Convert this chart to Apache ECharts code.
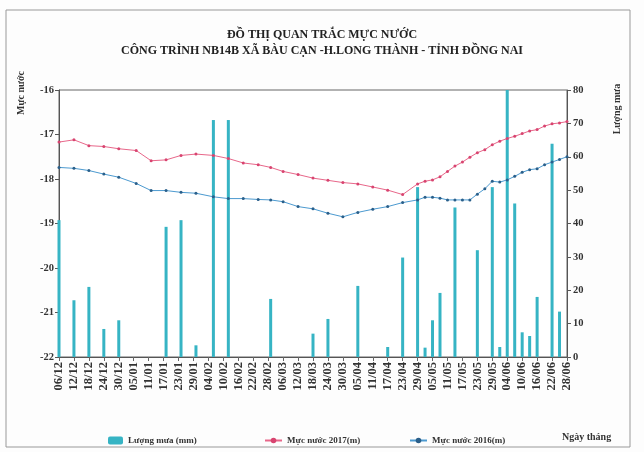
<!DOCTYPE html>
<html><head><meta charset="utf-8">
<script src="https://cdn.jsdelivr.net/npm/echarts@6/dist/echarts.min.js"></script>
<style>html,body{margin:0;padding:0;background:#fdfdfd}#c{width:644px;height:452px}</style>
</head><body><div id="c"></div>
<script>
const titleLines = ['ĐỒ THỊ QUAN TRẮC MỰC NƯỚC', 'CÔNG TRÌNH NB14B XÃ BÀU CẠN -H.LONG THÀNH - TỈNH ĐỒNG NAI'];
const tickLabels = ['06/12','12/12','18/12','24/12','30/12','05/01','11/01','17/01','23/01','29/01','04/02','10/02','16/02','22/02','28/02','06/03','12/03','18/03','24/03','30/03','05/04','11/04','17/04','23/04','29/04','05/05','11/05','17/05','23/05','29/05','04/06','10/06','16/06','22/06','28/06'];
const lineDates = ['06/12','12/12','18/12','24/12','30/12','06/01','12/01','18/01','24/01','30/01','06/02','12/02','18/02','24/02','01/03','06/03','12/03','18/03','24/03','30/03','05/04','11/04','17/04','23/04','29/04','02/05','05/05','08/05','11/05','14/05','17/05','20/05','23/05','26/05','29/05','01/06','04/06','07/06','10/06','13/06','16/06','19/06','22/06','25/06','28/06'];
const level2017 = [-17.17,-17.12,-17.25,-17.27,-17.32,-17.36,-17.59,-17.57,-17.47,-17.44,-17.47,-17.54,-17.64,-17.68,-17.74,-17.83,-17.90,-17.98,-18.03,-18.08,-18.11,-18.18,-18.25,-18.35,-18.11,-18.05,-18.02,-17.95,-17.83,-17.71,-17.62,-17.51,-17.41,-17.34,-17.23,-17.15,-17.09,-17.04,-16.98,-16.92,-16.89,-16.81,-16.76,-16.74,-16.71];
const level2016 = [-17.74,-17.76,-17.81,-17.89,-17.96,-18.10,-18.26,-18.26,-18.30,-18.32,-18.40,-18.44,-18.44,-18.46,-18.47,-18.51,-18.62,-18.67,-18.77,-18.85,-18.75,-18.68,-18.62,-18.53,-18.47,-18.41,-18.41,-18.43,-18.47,-18.47,-18.47,-18.47,-18.34,-18.22,-18.05,-18.07,-18.02,-17.94,-17.85,-17.79,-17.77,-17.68,-17.62,-17.56,-17.50];
const rainDates = ['06/12','12/12','18/12','24/12','30/12','18/01','24/01','30/01','06/02','12/02','01/03','18/03','24/03','05/04','17/04','23/04','29/04','02/05','05/05','08/05','14/05','23/05','29/05','01/06','04/06','07/06','10/06','13/06','16/06','22/06','25/06'];
const rainValues = [41,17,21,8.4,11,39,41,3.5,71,71,17.4,7,11.4,21.3,3,29.8,50.9,2.8,11,19.2,44.8,32,50.9,3,80,46,7.4,6.3,18,63.9,13.6];

function dayOf(s){const p=s.split('/').map(Number);const y=p[1]===12?2016:2017;return Math.round((Date.UTC(y,p[1]-1,p[0])-Date.UTC(2016,11,6))/86400000);}
const FONT='Liberation Serif';
const legendText={fontFamily:FONT,fontWeight:'bold',fontSize:9,color:'#333'};
const chart=echarts.init(document.getElementById('c'));
chart.setOption({
  backgroundColor:'#fdfdfd',
  animation:false,
  title:{text:titleLines.join('\n'),left:'center',top:22,textStyle:{fontFamily:FONT,fontWeight:'bold',fontSize:12,lineHeight:16,color:'#222'}},
  grid:{left:59,right:77,top:90,bottom:95,show:true,borderColor:'#666',borderWidth:1,backgroundColor:'#fff'},
  legend:[
    {data:['Lượng mưa (mm)'],left:103,top:431,itemWidth:15,itemHeight:8,textStyle:legendText},
    {data:['Mực nước 2017(m)'],left:259,top:431,itemWidth:17,itemHeight:7,textStyle:legendText},
    {data:['Mực nước 2016(m)'],left:404,top:431,itemWidth:17,itemHeight:7,textStyle:legendText}
  ],
  xAxis:{type:'value',min:0,max:204,interval:6,
    axisLine:{lineStyle:{color:'#555'}},axisTick:{length:4,lineStyle:{color:'#666'}},splitLine:{show:false},
    axisLabel:{rotate:90,margin:5,fontFamily:FONT,fontWeight:'bold',fontSize:12.5,color:'#333',formatter:v=>tickLabels[Math.round(v/6)]||''}},
  yAxis:[
    {type:'value',min:-22,max:-16,interval:1,position:'left',splitLine:{show:false},
     axisLine:{show:true,lineStyle:{color:'#555'}},axisTick:{show:true,length:4,lineStyle:{color:'#555'}},
     axisLabel:{margin:5,fontFamily:FONT,fontWeight:'bold',fontSize:10.5,color:'#333'}},
    {type:'value',min:0,max:80,interval:10,position:'right',splitLine:{show:false},
     axisLine:{show:true,lineStyle:{color:'#555'}},axisTick:{show:true,length:4,lineStyle:{color:'#555'}},
     axisLabel:{margin:6,fontFamily:FONT,fontWeight:'bold',fontSize:10.5,color:'#333'}}
  ],
  graphic:[
    {type:'rect',shape:{x:6,y:10,width:624,height:437},style:{fill:'none',stroke:'#999',lineWidth:1},silent:true},
    {type:'text',x:21,y:93,rotation:Math.PI/2,style:{text:'Mực nước',font:'bold 10px "Liberation Serif"',fill:'#333',textAlign:'center',textVerticalAlign:'middle'}},
    {type:'text',x:617,y:109,rotation:Math.PI/2,style:{text:'Lượng mưa',font:'bold 10px "Liberation Serif"',fill:'#333',textAlign:'center',textVerticalAlign:'middle'}},
    {type:'text',x:562,y:437,style:{text:'Ngày tháng',font:'bold 10px "Liberation Serif"',fill:'#333',textVerticalAlign:'middle'}}
  ],
  series:[
    {name:'Lượng mưa (mm)',type:'bar',yAxisIndex:1,barWidth:3,itemStyle:{color:'#36b4c4'},
     data:rainDates.map((d,i)=>[dayOf(d),rainValues[i]])},
    {name:'Mực nước 2017(m)',type:'line',yAxisIndex:0,symbol:'circle',symbolSize:3,
     lineStyle:{color:'#e8678a',width:1},itemStyle:{color:'#d84470'},
     data:lineDates.map((d,i)=>[dayOf(d),level2017[i]])},
    {name:'Mực nước 2016(m)',type:'line',yAxisIndex:0,symbol:'circle',symbolSize:3,
     lineStyle:{color:'#4c9ad0',width:1},itemStyle:{color:'#2a5f8a'},
     data:lineDates.map((d,i)=>[dayOf(d),level2016[i]])}
  ]
});
</script></body></html>
